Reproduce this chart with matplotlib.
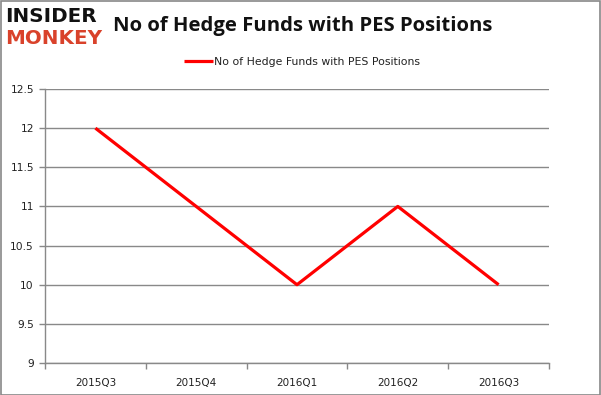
import matplotlib
matplotlib.use("Agg")
import matplotlib.pyplot as plt
from matplotlib.patches import Rectangle

categories = ["2015Q3", "2015Q4", "2016Q1", "2016Q2", "2016Q3"]
values = [12, 11, 10, 11, 10]
series_name = "No of Hedge Funds with PES Positions"
title = "No of Hedge Funds with PES Positions"
yticks = [9, 9.5, 10, 10.5, 11, 11.5, 12, 12.5]
ytick_labels = ["9", "9.5", "10", "10.5", "11", "11.5", "12", "12.5"]

W, H = 601, 395
fig = plt.figure(figsize=(W / 100, H / 100), dpi=100)
fig.patch.set_facecolor("white")

# axes placement in pixels
left, right, top, bottom = 45, 549, 89, 363
ax = fig.add_axes([left / W, 1 - bottom / H, (right - left) / W, (bottom - top) / H])

x = list(range(len(categories)))
ax.plot(x, values, color="#ff0000", lw=2.3, solid_capstyle="butt", label=series_name, zorder=3)
ax.set_xlim(-0.5, len(categories) - 0.5)
ax.set_ylim(9, 12.5)
ax.set_yticks(yticks)
ax.set_yticklabels(ytick_labels)
ax.set_xticks(x)
ax.set_xticklabels(categories)
ax.set_xticks([i - 0.5 for i in range(len(categories) + 1)], minor=True)
ax.tick_params(axis="x", which="major", length=0, pad=11, labelsize=7.5, labelcolor="#222222")
ax.tick_params(axis="x", which="minor", length=4, color="#888888", width=1)
ax.tick_params(axis="y", length=4, color="#888888", width=1, labelsize=7.7, labelcolor="#222222", pad=4)
for t in ax.get_xticklabels() + ax.get_yticklabels():
    t.set_family("DejaVu Sans")

ax.grid(axis="y", color="#898989", lw=1)
ax.set_axisbelow(True)
for s in ["top", "right"]:
    ax.spines[s].set_visible(False)
for s in ["left", "bottom"]:
    ax.spines[s].set_color("#898989")
    ax.spines[s].set_linewidth(1)

# legend
leg = fig.legend(loc="center", bbox_to_anchor=(302 / W, 1 - 62 / H), frameon=False,
                 fontsize=7.8, handlelength=2.7, handletextpad=0.15)
for t in leg.get_texts():
    t.set_family("DejaVu Sans")
    t.set_color("#222222")

# title
fig.text(113 / W, 1 - 26 / H, title, fontsize=14.6, fontweight="bold",
         family="Open Sans", va="center", ha="left", color="#111111")

# logo
fig.text(5 / W, 1 - 17 / H, "INSIDER", fontsize=14.3, fontweight="heavy", family="DejaVu Sans",
         va="center", ha="left", color="#111111")
fig.text(5 / W, 1 - 39 / H, "MONKEY", fontsize=14.3, fontweight="heavy", family="DejaVu Sans",
         va="center", ha="left", color="#d9422b")

# border
fig.patches.append(Rectangle((1 / W, 0.5 / H), (W - 2.5) / W, (H - 1.5) / H, transform=fig.transFigure,
                             fill=False, edgecolor="#888888", lw=1.2))

fig.savefig("out.png", dpi=100, facecolor="white")
